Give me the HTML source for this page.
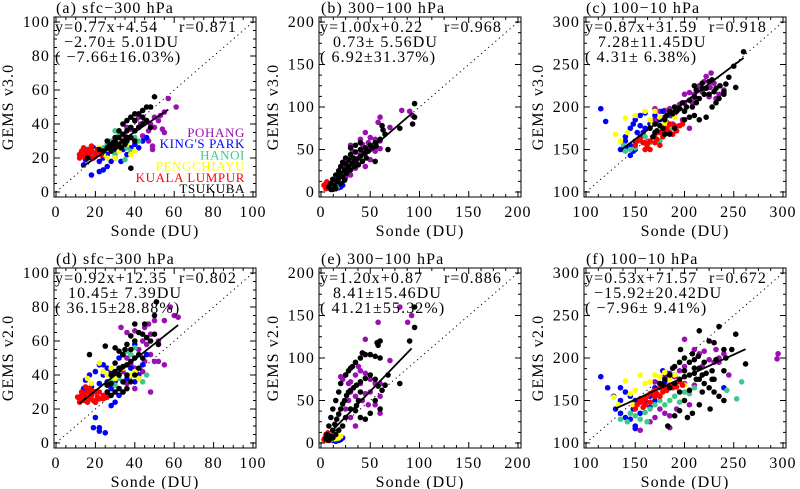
<!DOCTYPE html>
<html><head><meta charset="utf-8"><style>
html,body{margin:0;padding:0;background:#fff;}
svg{display:block;font-family:"Liberation Serif",serif;}
text{font-size:16px;letter-spacing:1.1px;}
</style></head><body>
<svg id="chart" width="800" height="489" viewBox="0 0 800 489" xmlns="http://www.w3.org/2000/svg"></svg>
<script>
const panelLabels=["(a) sfc\u2212300 hPa","(b) 300\u2212100 hPa","(c) 100\u221210 hPa","(d) sfc\u2212300 hPa","(e) 300\u2212100 hPa","(f) 100\u221210 hPa"];
const panelRanges=[[0,100],[0,200],[100,300],[0,100],[0,200],[100,300]];
const tickLabelsA=[0,20,40,60,80,100];
const tickLabelsB=[0,50,100,150,200];
const tickLabelsC=[100,150,200,250,300];
const yTitles=["GEMS v3.0","GEMS v3.0","GEMS v3.0","GEMS v2.0","GEMS v2.0","GEMS v2.0"];
const fitSlopes=[0.77,1.00,0.87,0.92,1.20,0.53];
const fitIntercepts=[4.54,0.22,31.59,12.35,0.87,71.57];
const fitXRange=[[13,57],[8,93],[135,260],[12,62],[12,92],[130,262]];
const statLine1=["y=0.77x+4.54","y=1.00x+0.22","y=0.87x+31.59","y=0.92x+12.35","y=1.20x+0.87","y=0.53x+71.57"];
const statR=["r=0.871","r=0.968","r=0.918","r=0.802","r=0.886","r=0.672"];
const statLine2=["\u22122.70\u00b1 5.01DU","0.73\u00b1 5.56DU","7.28\u00b111.45DU","10.45\u00b1 7.39DU","8.41\u00b115.46DU","\u221215.92\u00b120.42DU"];
const statLine3=["( \u22127.66\u00b116.03%)","( 6.92\u00b131.37%)","( 4.31\u00b1 6.38%)","( 36.15\u00b128.88%)","( 41.21\u00b155.32%)","( \u22127.96\u00b1 9.41%)"];
const stations=["POHANG","KING'S PARK","HANOI","PENGCHIAYU","KUALA LUMPUR","TSUKUBA"];
const stationColors=["#9a10b0","#0000ff","#40c88a","#ffff00","#ff0000","#000000"];
const pointsA=[
"57,55 61,50 55,47 53,45 50,44 48,40 52,42 54,37 55,35 50,38 47,36 45,42 43,40 42,38 40,36 47,30 49,27 49,25 35,33 38,37 44,33 42,44 40,42 36,38",
"14,16 18,10 22,12 24,13 26,15 28,18 30,20 24,20 20,22 16,24 18,20 22,18 30,24 34,25 38,26 40,28 44,30 46,32 42,26 36,22 33,18 26,22 28,26 15,19 19,26 12,22",
"34,40 30,36 28,30 26,28 32,34 36,26 38,24 40,32 42,30 24,26 30,22 35,19",
"22,26 24,22 26,20 28,24 30,20 32,24 34,30 38,22 20,24 36,28 40,24",
"12,22 13,24 14,21 15,23 16,25 17,22 18,24 19,20 20,23 21,25 22,24 12,20 14,26 16,20 18,27 20,21 23,22 24,24 13,23 17,25",
"16,20 38,14 50,56 48,50 46,50 44,48 42,46 40,46 38,44 40,42 36,42 34,40 38,38 36,36 34,34 32,32 30,30 28,28 26,26 32,28 34,30 36,32 40,36 42,38 44,40 38,32 30,26 28,24 26,30 30,32 32,36 36,30 40,30 24,24 22,25 44,44 46,42 48,38 35,28 33,26 29,29 31,27 27,27"];
const pointsB=[
"82,96 90,95 93,90 60,88 58,82 70,76 45,70 50,64 55,62 60,60 50,50 55,48 60,51 45,45 40,44 38,40 35,36 30,34 25,28 28,24 22,32 20,20 32,48 42,56 48,58 40,62 30,55 50,38 45,30 35,28 25,17 30,20",
"15,4 18,5 20,6 22,8",
"10,4 16,5",
"12,3 14,4",
"5,6 6,9 4,7 7,5 5,4 6,12 3,8 8,7 5,10",
"95,104 95,88 93,80 80,75 62,78 63,73 65,68 68,50 55,36 60,62 55,58 50,55 45,52 40,50 35,47 30,44 25,40 22,35 20,30 18,25 15,20 12,15 10,10 8,6 10,3 14,8 16,12 18,16 20,22 24,26 28,30 32,34 36,38 40,42 44,46 48,48 52,52 56,54 30,52 35,55 40,58 25,33 28,38 33,40 38,32 42,36 46,40 22,18 26,22 30,26 34,30 15,4 20,10 24,14 12,3"];
const pointsC=[
"227,240 222,236 220,230 215,225 230,228 218,221 226,223 200,215 205,217 210,215 212,210 208,205 200,205 195,203 190,200 185,198 180,196 175,195 170,198 185,190 190,192 198,185 205,175 195,178 188,180 170,185 240,220 235,215 225,212 218,218 232,210",
"115,198 120,183 150,185 155,190 160,193 145,175 148,180 152,170 155,178 160,175 140,160 138,150 145,155 150,160 148,148 142,152 155,165 165,180 170,190 178,195 180,188 185,192 175,185 135,150 140,165 145,143 150,150 158,170",
"140,148 145,150 155,160 160,165 165,158 170,165 175,160 180,170 185,175 150,152 138,155",
"130,168 140,187 142,170 135,160 150,190 160,195 170,195 175,188 182,190 185,195 190,188 180,180 165,185 168,180",
"150,155 152,160 155,162 158,158 160,150 162,155 165,160 168,165 170,168 172,162 175,170 178,165 180,172 182,175 185,170 188,168 190,178 192,172 195,178 198,180 175,155 165,150 160,158 170,158 185,180",
"260,265 250,248 252,223 242,227 240,218 236,225 232,222 228,232 225,230 222,222 220,215 218,222 215,210 212,205 210,212 208,200 205,208 202,200 200,195 198,205 195,198 192,195 190,200 188,192 185,195 182,190 180,185 178,175 175,178 172,172 170,170 168,165 165,175 170,180 180,168 185,168 190,175 200,185 205,188 210,190 215,185 222,188 228,200 232,205 235,210 225,215 212,220 210,225 230,218 240,215 245,235 218,228"];
const pointsD=[
"60,75 62,74 58,80 55,72 50,72 47,70 45,68 40,66 36,65 33,68 48,64 52,60 46,58 44,60 42,55 48,52 50,48 52,48 55,46 45,48 44,42 48,30 42,40 40,44 38,46 36,50 34,42 36,35 40,32",
"20,15 19,9 22,9 22,7 25,6 20,24 22,35 18,33 16,30 15,37 17,40 20,42 22,46 24,46 26,44 28,42 30,40 30,36 28,32 26,28 28,22 30,24 32,28 34,30 36,38 38,44 40,36 42,40 44,46 46,52 40,58 32,50 34,52 24,40 26,36 20,30 18,28 14,32",
"36,54 38,52 40,56 42,38 44,36 46,40 30,34 28,36 26,40 32,38",
"16,38 18,35 22,47 24,42 26,40 28,44 30,38 34,44 36,46 38,40 40,42 42,38",
"12,26 13,28 14,25 15,27 16,30 17,26 18,28 19,25 20,30 21,27 22,26 24,28 12,24 14,29 16,24 18,31 20,24 22,30 24,26 26,27 15,33 17,32 13,30 11,27",
"51,83 50,75 45,70 40,70 42,65 44,64 46,62 48,60 50,64 52,58 38,63 36,58 35,55 34,52 32,54 30,56 25,57 17,52 40,60 38,55 42,52 40,50 38,48 36,46 34,45 32,44 30,42 28,40 30,30 28,28 26,30 32,32 34,36 36,40 38,36 40,40 42,44 44,50 28,35 30,47 32,40 34,30 26,34 36,32"];
const pointsE=[
"80,160 88,142 92,150 58,142 45,122 25,80 20,78 22,75 28,70 30,72 35,80 38,90 40,85 45,82 50,75 55,70 40,70 30,60 35,55 28,50 25,40 45,58 50,60 60,70 65,68 70,97 60,55 48,45 42,50 55,45 60,35 35,20 30,30",
"12,3 15,2 18,3 20,4 22,6",
"10,4 16,5",
"14,5 18,6 20,8",
"4,6 5,10 6,8 3,4 7,12 5,4 8,6 6,3",
"95,160 95,136 90,120 80,70 68,80 60,120 58,115 57,118 60,100 55,102 50,104 45,104 42,106 40,100 35,95 32,90 30,88 28,85 25,80 20,70 18,60 15,50 12,40 10,30 8,20 6,10 5,5 8,3 10,8 12,15 14,22 16,28 18,34 20,40 22,46 24,50 26,56 28,60 30,62 33,65 36,68 40,72 45,76 50,80 55,75 58,67 62,62 65,68 60,40 55,50 50,35 45,28 40,30 35,38 30,40 25,30 22,20 18,15 15,10 12,6 40,60 38,50 36,44"];
const pointsF=[
"295,205 294,199 200,222 210,210 215,205 220,208 225,198 230,195 235,200 240,205 232,210 218,190 200,190 195,185 190,178 185,182 180,178 175,170 170,172 180,165 190,170 200,170 210,168 180,135 185,132 175,140 170,130 165,125 155,115 185,118 192,140 205,145 245,180 235,195",
"115,178 122,165 135,165 140,160 145,155 150,150 155,148 160,150 165,155 170,165 175,170 180,172 185,178 190,180 178,185 182,182 150,120 150,117 140,130 135,135 130,140 145,128 148,140 155,135 160,145 165,142 135,150 128,155 170,150 240,165",
"135,128 142,125 150,132 155,128 160,136 165,140 170,145 175,150 180,145 185,150 190,155 195,148 200,160 205,158 210,165 243,162 253,152 258,172 162,125 145,135",
"128,154 140,173 145,158 150,162 160,170 165,172 170,180 175,178 185,175 190,180 195,172 200,168 155,180 180,183 148,145 133,145",
"150,140 152,145 155,148 158,150 160,152 162,155 165,158 168,160 170,162 172,158 175,165 178,160 180,166 182,162 185,168 188,165 190,170 192,166 195,172 198,168 160,145 165,148 170,155 175,155 155,152 158,142",
"262,193 252,228 235,237 215,232 225,220 230,218 240,210 248,210 242,200 232,198 228,185 220,195 215,188 210,198 205,195 200,200 195,195 190,190 188,188 185,180 180,175 175,170 178,168 185,165 190,170 195,175 200,178 205,180 210,182 215,175 220,170 225,165 230,160 235,155 240,150 226,140 215,145 208,135 203,130 195,138 190,132 183,120 200,185 210,188 212,175 218,180 222,182 228,175 218,160 205,162 195,160 200,150 230,175 240,185 196,210 208,205 214,202"];

const allPoints=[pointsA,pointsB,pointsC,pointsD,pointsE,pointsF];
const allTicks=[tickLabelsA,tickLabelsB,tickLabelsC,tickLabelsA,tickLabelsB,tickLabelsC];
const NS="http://www.w3.org/2000/svg";
const svg=document.getElementById('chart');
function mk(tag,attrs,parent){const e=document.createElementNS(NS,tag);for(const k in attrs)e.setAttribute(k,attrs[k]);(parent||svg).appendChild(e);return e;}
const lefts=[54,319,584], tops=[17,268], W=202, H=180;

for(let p=0;p<6;p++){
  const L=lefts[p%3], T=tops[Math.floor(p/3)];
  const [lo,hi]=panelRanges[p];
  const sx=v=>L+2+(v-lo)/(hi-lo)*197;
  const sy=v=>T+175-(v-lo)/(hi-lo)*170;
  const g=mk('g',{});
  
  
  const cid='clip'+p;
  const cp=mk('clipPath',{id:cid},g); mk('rect',{x:L,y:T,width:W,height:H},cp);
  const one=mk('line',{x1:sx(lo),y1:sy(lo),x2:sx(hi),y2:sy(hi),stroke:'#000','stroke-width':1,'stroke-dasharray':'1.2,3.5','clip-path':'url(#'+cid+')'},g);
  
  
  const pts=allPoints[p];
  for(let s=0;s<6;s++){
    const sg=mk('g',{fill:stationColors[s],'clip-path':'url(#'+cid+')'},g);
    
    
    pts[s].trim().split(/\s+/).forEach(pr=>{const [x,y]=pr.split(',').map(Number);
      const c=mk('circle',{cx:sx(x),cy:sy(y),r:2.8},sg);
      
      });
  }
  const [fx0,fx1]=fitXRange[p];
  const fl=mk('line',{x1:sx(fx0),y1:sy(fitSlopes[p]*fx0+fitIntercepts[p]),x2:sx(fx1),y2:sy(fitSlopes[p]*fx1+fitIntercepts[p]),stroke:'#000','stroke-width':1.8},g);
  
  
  const bx=mk('rect',{x:L,y:T,width:W,height:H,fill:'none',stroke:'#000','stroke-width':1},g);
  
  
  const ticks=allTicks[p];
  const step=ticks[1]-ticks[0];
  for(let v=lo;v<=hi+1e-9;v+=step/4){
    const major=Math.abs(((v-lo)/step)-Math.round((v-lo)/step))<1e-6;
    const len=major?6:3;
    mk('line',{x1:sx(v),y1:T+H,x2:sx(v),y2:T+H-len,stroke:'#000'},g);
    mk('line',{x1:sx(v),y1:T,x2:sx(v),y2:T+len,stroke:'#000'},g);
    mk('line',{x1:L,y1:sy(v),x2:L+len,y2:sy(v),stroke:'#000'},g);
    mk('line',{x1:L+W,y1:sy(v),x2:L+W-len,y2:sy(v),stroke:'#000'},g);
  }
  ticks.forEach(v=>{
    const xt=mk('text',{x:sx(v),y:T+H+20,'text-anchor':'middle'},g); xt.textContent=v;
    
    
    const yt=mk('text',{x:L-4,y:sy(v)+5,'text-anchor':'end'},g); yt.textContent=v;
    
    
  });
  const xtitle=mk('text',{x:L+W/2,y:T+H+39,'text-anchor':'middle'},g); xtitle.textContent='Sonde (DU)';
  
  
  const yx=L-41, yy=T+H/2;
  const ytitle=mk('text',{x:yx,y:yy,'text-anchor':'middle',transform:'rotate(-90 '+yx+' '+yy+')'},g); ytitle.textContent=yTitles[p];
  
  
  const tt=mk('text',{x:L+2,y:T-4},g); tt.textContent=panelLabels[p];
  
  
  const s1=mk('text',{x:L+1,y:T+15},g); s1.textContent=statLine1[p];
  
  
  const sr=mk('text',{x:L+183,y:T+15,'text-anchor':'end'},g); sr.textContent=statR[p];
  
  
  const s2=mk('text',{x:L+(statLine2[p].startsWith('\u2212')?(statLine2[p].length>15?1:10):(statLine2[p].length<14?14:8)),y:T+30},g); s2.textContent=statLine2[p];
  
  
  const s3=mk('text',{x:L+1,y:T+45},g); s3.textContent=statLine3[p];
  s3.setAttribute('style','white-space:pre');
  
  
}
const lg=mk('g',{});


stations.forEach((s,i)=>{
  const t=mk('text',{x:245,y:137+i*11.2,'text-anchor':'end'},lg);
  t.setAttribute('style','font-size:13px;letter-spacing:0.6px;fill:'+stationColors[i]);
  t.textContent=s;
  
  
});
</script>
</body></html>
